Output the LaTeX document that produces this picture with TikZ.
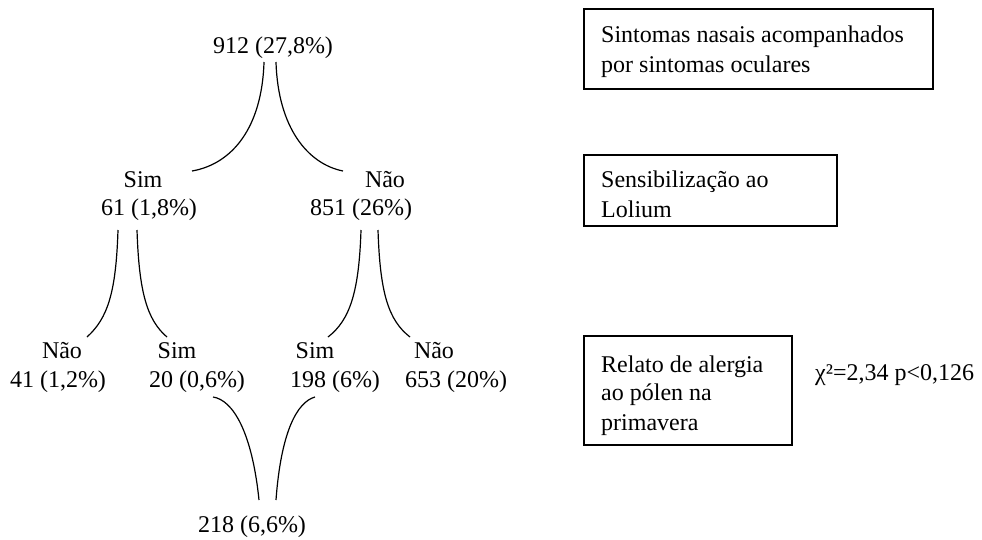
\documentclass[tikz,border=0pt]{standalone}
\usepackage{fontspec}
\setmainfont{Liberation Serif}
\begin{document}
\begin{tikzpicture}[x=1pt,y=-1pt,
  lbl/.style={anchor=base,inner sep=0pt,font=\fontsize{24}{30}\selectfont},
  txt/.style={anchor=base west,inner sep=0pt,font=\fontsize{24}{30}\selectfont},
  frame/.style={draw=black,line width=1.5pt,anchor=north west,inner sep=0pt},
  branch/.style={draw=black,line width=1.2pt}]
\useasboundingbox (0,0) rectangle (982,539);
% tree labels
\node[lbl] (top) at (273,53) {912 (27,8\%)};
\node[lbl] (simA) at (143,187) {Sim};
\node[lbl] (simAn) at (149,215) {61 (1,8\%)};
\node[lbl] (naoA) at (385,187) {Não};
\node[lbl] (naoAn) at (361,215) {851 (26\%)};
\node[lbl] (naoB) at (62,358) {Não};
\node[lbl] (naoBn) at (58,387) {41 (1,2\%)};
\node[lbl] (simB) at (177,358) {Sim};
\node[lbl] (simBn) at (197,387) {20 (0,6\%)};
\node[lbl] (simC) at (315,358) {Sim};
\node[lbl] (simCn) at (335,387) {198 (6\%)};
\node[lbl] (naoC) at (434,358) {Não};
\node[lbl] (naoCn) at (456,387) {653 (20\%)};
\node[lbl] (bottom) at (252,532) {218 (6,6\%)};
% curve end points
\coordinate (t1) at (264,62); \coordinate (t2) at (276,62);
\coordinate (sa) at (192,171); \coordinate (na) at (343,171);
\coordinate (s1) at (118,230); \coordinate (s2) at (137,230);
\coordinate (nb) at (87,337); \coordinate (sb) at (167,337);
\coordinate (n1) at (361,230); \coordinate (n2) at (378,230);
\coordinate (sc) at (328,337); \coordinate (nc) at (410,337);
\coordinate (l1) at (213,397); \coordinate (r1) at (315,397);
\coordinate (b1) at (259,500); \coordinate (b2) at (276,500);
% curves
\draw[branch] (t1) .. controls (262,128) and (232,164) .. (sa);
\draw[branch] (t2) .. controls (278,128) and (308,164) .. (na);
\draw[branch] (s1) .. controls (116,292) and (108,318) .. (nb);
\draw[branch] (s2) .. controls (139,292) and (147,320) .. (sb);
\draw[branch] (n1) .. controls (359,292) and (350,320) .. (sc);
\draw[branch] (n2) .. controls (380,292) and (388,320) .. (nc);
\draw[branch] (l1) .. controls (233,400) and (252,432) .. (b1);
\draw[branch] (r1) .. controls (297,402) and (281,432) .. (b2);
% boxes
\node[frame,minimum width=349pt,minimum height=80pt] (box1) at (583,8) {};
\node[txt] (box1a) at (601,42) {Sintomas nasais acompanhados};
\node[txt] (box1b) at (601,72) {por sintomas oculares};
\node[frame,minimum width=253pt,minimum height=71pt] (box2) at (583,154) {};
\node[txt] (box2a) at (601,187) {Sensibilização ao};
\node[txt] (box2b) at (601,217) {Lolium};
\node[frame,minimum width=208pt,minimum height=109pt] (box3) at (583,335) {};
\node[txt] (box3a) at (601,372) {Relato de alergia};
\node[txt] (box3b) at (601,400) {ao pólen na};
\node[txt] (box3c) at (601,430) {primavera};
\node[txt] (chi) at (815,380) {χ²=2,34 p<0,126};
\end{tikzpicture}
\end{document}
